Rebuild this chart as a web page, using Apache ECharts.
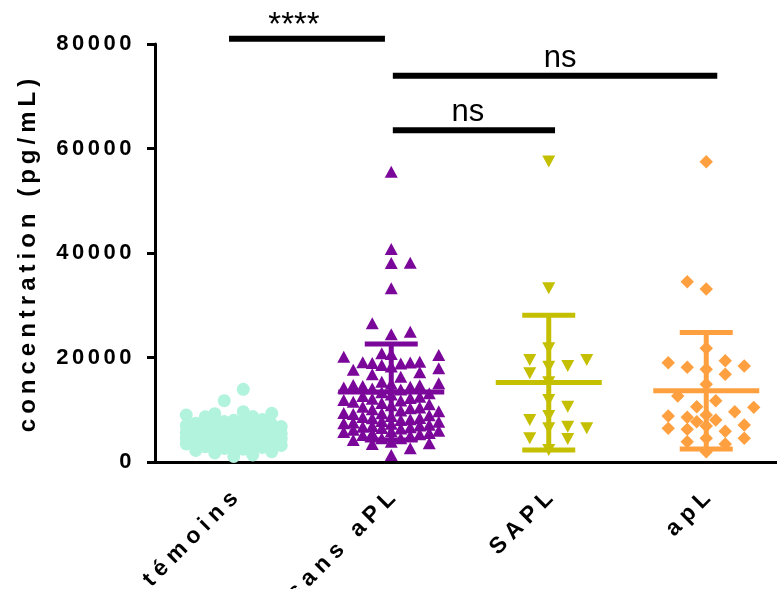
<!DOCTYPE html>
<html><head><meta charset="utf-8">
<script src="https://cdn.jsdelivr.net/npm/echarts@6/dist/echarts.min.js"></script>
<style>html,body{margin:0;padding:0;background:#fff;overflow:hidden}#c{width:777px;height:589px}</style>
</head><body><div id="c"></div>
<script>
// ---------- data ----------
const categories = ['témoins', 'sans aPL', 'SAPL', 'apL'];
const temoins = [13900, 11730, 9630, 9320, 9250, 9000, 8700, 8640, 8120, 7980, 7730, 7650, 7420, 7210, 7180,
  6950, 6820, 6790, 6560, 6480, 6330, 6270, 6090, 5960, 5910, 5780, 5650, 5590, 5420, 5380, 5230, 5160, 5040,
  4920, 4870, 4710, 4660, 4530, 4410, 4380, 4220, 4150, 4040, 3930, 3880, 3720, 3640, 3510, 3460, 3290, 3180,
  3050, 2920, 2780, 2590, 2440, 2210, 1980, 1720, 1350, 1050];
const sansAPL = [55560, 40770, 38150, 38100, 33240, 26550, 24940, 24440,
  20800, 20670, 20480, 20150,
  19210, 19080, 19020, 18950, 18870, 18560, 18300, 17930, 17650,
  17200, 16800, 16330,
  15370, 15060, 14980, 14740, 14700, 14550, 14410, 14260, 14050, 13880,
  13340, 13150, 12900, 12630, 12480, 12250, 12100, 11870, 11790,
  11520, 11300, 11050, 10880, 10590, 10420, 10310, 10080, 9870, 9720,
  9400, 9310, 9180, 8960, 8800, 8620, 8420, 8350, 8180, 8040, 7860,
  7710, 7560, 7400, 7320, 7150, 6980, 6890, 6760, 6650, 6520, 6400,
  6150, 5980, 5870, 5720, 5550, 5490, 5310, 5180, 5020,
  4530, 4530, 4210, 3890, 3580, 3450,
  2620, 1340];
const sapl = [57500, 33240, 21760, 18370, 19520, 19520, 18240, 16970, 15250, 10590, 11870, 8040, 8800,
  6440, 6440, 6760, 4530, 4400, 2300];
const apl = [57480, 34510, 33110, 21760, 19390, 19010, 18370, 18120, 17740, 16780, 14870, 12630, 11730,
  10590, 10460, 9630, 9000, 8800, 8550, 8040, 7720, 7080, 6890, 6440, 6250, 5900, 4530, 4530, 3890, 3450, 1970];
const groupValues = [temoins, sansAPL, sapl, apl];
const groupMeans = [5740, 13400, 15200, 13650];
const groupSDs = [2430, 9200, 12900, 11150];
const yMin = 0, yMax = 80000, yInterval = 20000;
const sigBars = [[-0.03, 0.96, 81000], [1.01, 3.07, 73900], [1.01, 2.04, 63500]];
const sigLabels = ['****', 'ns', 'ns'];

// ---------- styles ----------
const colors = ['#b2f3dd', '#7a0799', '#c4bf00', '#ffa040'];
const symbols = ['circle', 'triangle', 'triangle', 'rect'];
const symbolSizes = [13, [13, 12], [13, 12], 9.5];
const symbolRotates = [0, 0, 180, 45];
// swarm collision boxes (px), tried in order: roomy first, then tighter
const swarmTiers = [[13, 12], [9.5, 10], [9.5, 7]];
const sigLabelDx = [-13, 5, -6];
const sigLabelFont = ['33px', '31px', '31px'];
const sigLabelDy = [4, -2, -2];

// GraphPad-like letter spacing for the bold texts (keyed by font size)
(function () {
  const P = CanvasRenderingContext2D.prototype;
  const orig = P.fillText;
  P.fillText = function (t, x, y, m) {
    if ('letterSpacing' in this) {
      let ls = '0px';
      if (/bold/.test(this.font)) {
        if (/22px/.test(this.font)) ls = '3.5px';
        else if (/24px/.test(this.font)) ls = '5px';
        else ls = '6px';
      }
      this.letterSpacing = ls;
    }
    return m === undefined ? orig.call(this, t, x, y) : orig.call(this, t, x, y, m);
  };
})();

const chart = echarts.init(document.getElementById('c'), null, { renderer: 'canvas' });
const FONT = 'Liberation Sans, Arial, sans-serif';

const base = {
  animation: false,
  backgroundColor: '#fff',
  grid: { left: 155, top: 44, width: 630, height: 418, containLabel: false, outerBoundsMode: 'none' },
  xAxis: [{
    type: 'category', data: categories, boundaryGap: true,
    axisLine: { onZero: false, lineStyle: { color: '#000', width: 3 } },
    axisTick: { alignWithLabel: true, length: 8, lineStyle: { color: '#000', width: 3 } },
    axisLabel: { show: false },
    splitLine: { show: false }
  }, {
    type: 'value', min: -0.5, max: 3.5, show: false, splitLine: { show: false }
  }],
  yAxis: [{
    type: 'value', min: yMin, max: yMax, interval: yInterval,
    name: 'concentration (pg/mL)', nameLocation: 'middle', nameGap: 115,
    nameTextStyle: { color: '#000', fontFamily: FONT, fontWeight: 'bold', fontSize: 24 },
    axisLine: { show: true, onZero: false, lineStyle: { color: '#000', width: 3 } },
    axisTick: { show: true, length: 8, lineStyle: { color: '#000', width: 3 } },
    axisLabel: { margin: 20, color: '#000', fontFamily: FONT, fontWeight: 'bold', fontSize: 22,
      formatter: v => String(v) },
    splitLine: { show: false }
  }],
  series: []
};
chart.setOption(base);

// pixel scales through the library
const pxPerX = chart.convertToPixel({ xAxisIndex: 1 }, 1) - chart.convertToPixel({ xAxisIndex: 1 }, 0);
const pxPerY = (chart.convertToPixel({ yAxisIndex: 0 }, 0) - chart.convertToPixel({ yAxisIndex: 0 }, 10000)) / 10000;

function swarm(values, cx, tiers, step, maxW) {
  const order = values.map((v, i) => i).sort((a, b) => values[a] - values[b]);
  const placed = [];
  const out = new Array(values.length);
  let flip = 1;
  for (const i of order) {
    const py = values[i] * pxPerY;
    let best = null, bestScore = -1, bestDx = 0;
    for (const box of tiers) {
      const W = box[0], H = box[1];
      for (let k = 0; k * step <= maxW && best === null; k++) {
        const cands = k === 0 ? [0] : [flip * k * step, -flip * k * step];
        for (const dx of cands) {
          let free = true, minD = Infinity;
          for (const p of placed) {
            const a = Math.abs(p.px - dx), b = Math.abs(p.py - py);
            if (a < W - 0.01 && b < H) free = false;
            const d = Math.sqrt(a * a + b * b);
            if (d < minD) minD = d;
          }
          if (free) { best = dx; break; }
          if (minD > bestScore) { bestScore = minD; bestDx = dx; }
        }
      }
      if (best !== null) break;
    }
    if (best === null) best = bestDx;
    if (best !== 0) flip = best > 0 ? -1 : 1;
    placed.push({ px: best, py });
    out[i] = [cx + best / pxPerX, values[i]];
  }
  return out;
}

const series = groupValues.map((vals, g) => ({
  type: 'scatter', xAxisIndex: 1, yAxisIndex: 0, name: categories[g],
  symbol: symbols[g], symbolSize: symbolSizes[g], symbolRotate: symbolRotates[g],
  itemStyle: { color: colors[g], opacity: 1 },
  data: swarm(vals, g, swarmTiers, 9.5, 50), z: 2
}));

// mean ± SD
series.push({
  type: 'custom', xAxisIndex: 1, yAxisIndex: 0, z: 5, silent: true,
  data: groupMeans.map((m, g) => [g, m, groupSDs[g]]),
  renderItem: function (params, api) {
    const x = api.value(0), m = api.value(1), s = api.value(2);
    const c = api.coord([x, m]);
    const t = api.coord([x, m + s]);
    const b = api.coord([x, Math.max(m - s, 0)]);
    const col = colors[params.dataIndex];
    const st = { stroke: col, lineWidth: 5 };
    return {
      type: 'group', children: [
        { type: 'line', shape: { x1: c[0], y1: t[1], x2: c[0], y2: b[1] }, style: st },
        { type: 'line', shape: { x1: c[0] - 53, y1: c[1], x2: c[0] + 53, y2: c[1] }, style: st },
        { type: 'line', shape: { x1: c[0] - 26.5, y1: t[1], x2: c[0] + 26.5, y2: t[1] }, style: st },
        { type: 'line', shape: { x1: c[0] - 26.5, y1: b[1], x2: c[0] + 26.5, y2: b[1] }, style: st }
      ]
    };
  }
});

// rotated category labels
series.push({
  type: 'custom', xAxisIndex: 1, yAxisIndex: 0, z: 6, silent: true, clip: false,
  data: categories.map((c, i) => [i, yMin]),
  renderItem: function (params, api) {
    const p = api.coord([api.value(0), api.value(1)]);
    return {
      type: 'text', x: p[0] + 5, y: p[1] + 29, rotation: Math.PI / 4,
      style: { text: categories[params.dataIndex], fill: '#000', font: 'bold 23px ' + FONT,
        textAlign: 'right', textVerticalAlign: 'middle' }
    };
  }
});

// significance bars
series.push({
  type: 'custom', xAxisIndex: 1, yAxisIndex: 0, z: 6, silent: true, clip: false,
  data: sigBars,
  renderItem: function (params, api) {
    const i = params.dataIndex;
    const p1 = api.coord([api.value(0), api.value(2)]);
    const p2 = api.coord([api.value(1), api.value(2)]);
    return {
      type: 'group', children: [
        { type: 'line', shape: { x1: p1[0], y1: p1[1], x2: p2[0], y2: p2[1] }, style: { stroke: '#000', lineWidth: 6 } },
        { type: 'text', x: (p1[0] + p2[0]) / 2 + sigLabelDx[i], y: p1[1] + sigLabelDy[i],
          style: { text: sigLabels[i], fill: '#000', font: sigLabelFont[i] + ' ' + FONT, textAlign: 'center', textVerticalAlign: 'bottom' } }
      ]
    };
  }
});

chart.setOption({ series: series });
</script></body></html>
